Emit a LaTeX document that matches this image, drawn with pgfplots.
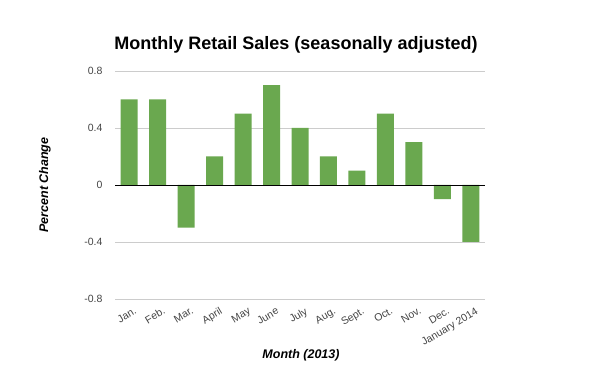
\documentclass[border=0pt]{standalone}
\usepackage{fontspec}
\setmainfont{Liberation Sans}
\usepackage{pgfplots}
\pgfplotsset{compat=1.18}
\definecolor{bargreen}{HTML}{6AA84F}
\definecolor{gridgray}{HTML}{CCCCCC}
\definecolor{ticktext}{HTML}{444444}
\begin{document}
\begin{tikzpicture}[x=1pt,y=1pt]
\useasboundingbox (0,0) rectangle (600,371);
\begin{axis}[
  at={(115pt,72pt)}, anchor=south west,
  scale only axis, width=370pt, height=228pt,
  xmin=-0.5, xmax=12.5, ymin=-0.8, ymax=0.8,
  axis line style={draw=none},
  tick style={draw=none},
  ytick={-0.8,-0.4,0,0.4,0.8},
  yticklabels={-0.8,-0.4,0,0.4,0.8},
  ymajorgrids,
  grid style={gridgray, line width=0.8pt},
  xtick={0,...,12},
  xticklabels={Jan.,Feb.,Mar.,April,May,June,July,Aug.,Sept.,Oct.,Nov.,Dec.,January 2014},
  x tick label style={rotate=31, anchor=north east, inner sep=1pt, yshift=-4pt, xshift=3pt, font=\fontsize{10.5}{12}\selectfont, text=ticktext},
  y tick label style={font=\fontsize{10.5}{12}\selectfont, text=ticktext, xshift=-9pt},
  ybar, bar width=17pt,
]
\addplot[fill=bargreen, draw=none] coordinates {
(0,0.6) (1,0.6) (2,-0.3) (3,0.2) (4,0.5) (5,0.7) (6,0.4) (7,0.2) (8,0.1) (9,0.5) (10,0.3) (11,-0.1) (12,-0.4)};
\draw[black, line width=0.9pt] (axis cs:-0.5,0) -- (axis cs:12.5,0);
\end{axis}
\node at (296,326) {\fontsize{18}{21}\selectfont\bfseries Monthly Retail Sales (seasonally adjusted)};
\node[rotate=90] at (45,186) {\fontsize{12.5}{15}\selectfont\bfseries\itshape Percent Change};
\node at (301,16) {\fontsize{12.5}{15}\selectfont\bfseries\itshape Month (2013)};
\end{tikzpicture}
\end{document}
